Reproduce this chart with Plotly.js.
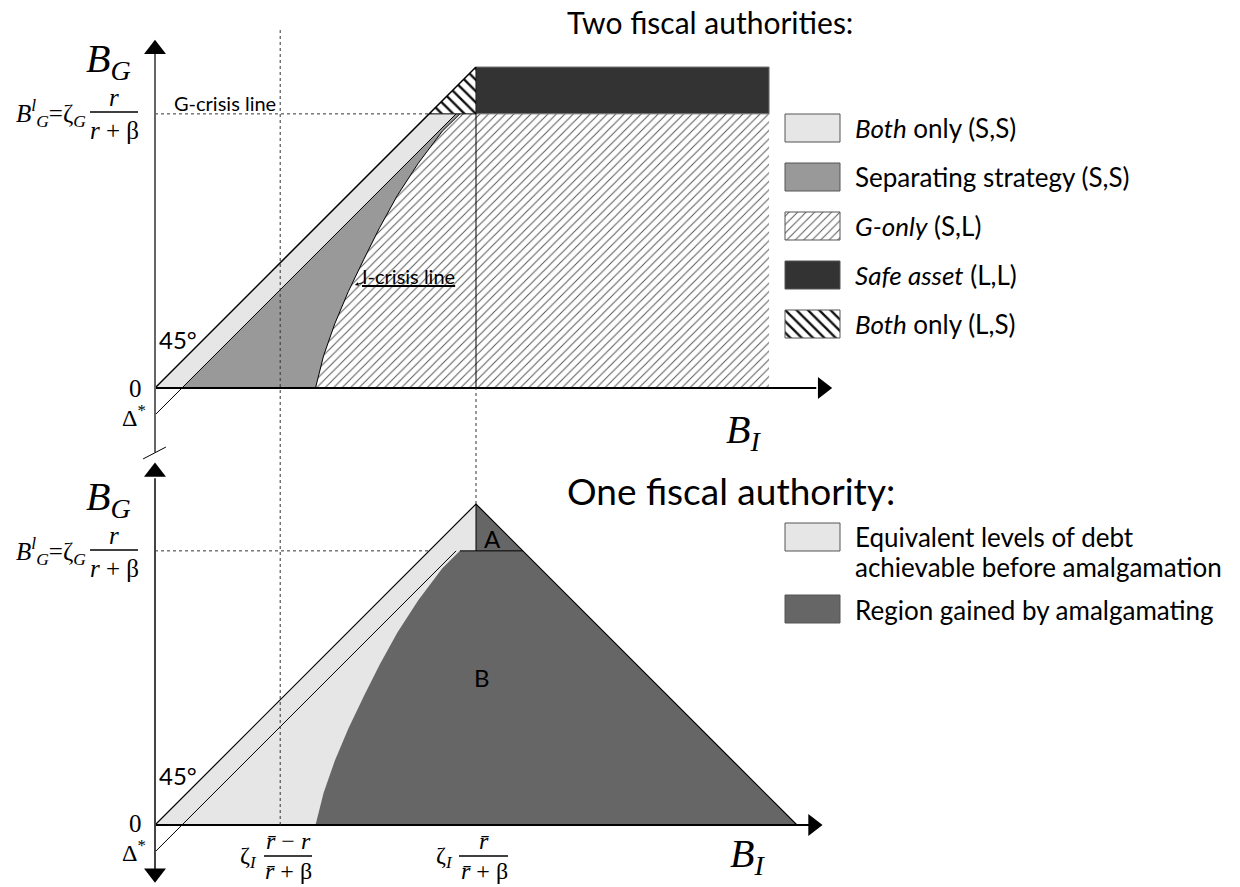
<!DOCTYPE html>
<html>
<head>
<meta charset="utf-8">
<script src="https://cdn.plot.ly/plotly-3.0.1.min.js"></script>
<style>html,body{margin:0;padding:0;background:#fff}#chart{width:1240px;height:887px}</style>
</head>
<body>
<div id="chart"></div>
<script>
// ---------------- DATA (model units) ----------------
const apex = 10;              // ζ_I r̄/(r̄+β) on B_I, and peak B_G
const gCrisis = 8.54;         // B_G^l = ζ_G r/(r+β)
const deltaStar = 0.84;       // Δ*
const separatingCut = 3.9;    // ζ_I (r̄−r)/(r̄+β)
const safeAssetEnd = 19.13;   // right edge of shaded regions (two authorities)
const oneAuthorityEnd = 20;   // B_I intercept of the one-authority frontier
// I-crisis line
const iCrisisBG = [0, 1, 2, 3, 4, 5, 6, 7, 8, 8.54];
const iCrisisBI = [5.0, 5.25, 5.6, 6.02, 6.5, 7.0, 7.55, 8.2, 8.95, 9.5];

const legendTop = ["<i>Both</i> only (S,S)", "Separating strategy (S,S)", "<i>G-only</i> (S,L)", "<i>Safe asset</i> (L,L)", "<i>Both</i> only (L,S)"];
const legendBottom = ["Equivalent levels of debt", "achievable before amalgamation", "Region gained by amalgamating"];

// ---------------- LAYOUT CONSTANTS (pixels) ----------------
const W = 1240, H = 887, PX = 32.1;
const originX = 155, topOriginY = 388, botOriginY = 825;
const panelGap = (botOriginY - topOriginY) / PX;

const C = {light: '#e6e6e6', mid: '#999999', dark: '#333333', region: '#666666'};
const SANS = 'Lato, "Open Sans", sans-serif';
const SERIF = '"Liberation Serif", "DejaVu Serif", serif';

const rev = a => a.slice().reverse();
const traces = [];
function poly(xs, ys, axis, fill, extra) {
  traces.push(Object.assign({x: xs.concat([xs[0]]), y: ys.concat([ys[0]]), xaxis: 'x', yaxis: axis,
    mode: 'lines', fill: 'toself', fillcolor: fill, line: {width: 0}, hoverinfo: 'skip', showlegend: false}, extra || {}));
}
function line(xs, ys, axis, color, width, dash) {
  traces.push({x: xs, y: ys, xaxis: 'x', yaxis: axis, mode: 'lines',
    line: {color: color, width: width, dash: dash || 'solid'}, hoverinfo: 'skip', showlegend: false});
}
function arrowHead(x, y, axis, symbol) {
  traces.push({x: [x], y: [y], xaxis: 'x', yaxis: axis, mode: 'markers',
    marker: {symbol: symbol, size: 19, color: '#000'}, hoverinfo: 'skip', showlegend: false});
}

// ---------- TOP PANEL: two fiscal authorities ----------
const hatchG = {fillpattern: {shape: '/', size: 6, solidity: 0.16, fgcolor: '#555', bgcolor: '#fff'}};
const hatchLS = {fillpattern: {shape: '\\', size: 8, solidity: 0.3, fgcolor: '#111', bgcolor: '#fff'}};
// G-only (S,L)
poly(iCrisisBI.concat([safeAssetEnd, safeAssetEnd]), iCrisisBG.concat([gCrisis, 0]), 'y', 'rgba(0,0,0,0)', hatchG);
// Safe asset (L,L)
poly([apex, safeAssetEnd, safeAssetEnd, apex], [gCrisis, gCrisis, apex, apex], 'y', C.dark, {line: {width: 1, color: '#777'}});
// Both only (L,S)
poly([gCrisis, apex, apex], [gCrisis, apex, gCrisis], 'y', 'rgba(0,0,0,0)', hatchLS);
// Both only (S,S)
poly([0, gCrisis, gCrisis + deltaStar, deltaStar], [0, gCrisis, gCrisis, 0], 'y', C.light);
// Separating strategy (S,S)
poly([deltaStar, gCrisis + deltaStar].concat(rev(iCrisisBI)), [0, gCrisis].concat(rev(iCrisisBG)), 'y', C.mid);

// lines, top
line([0, gCrisis], [gCrisis, gCrisis], 'y', '#333', 1, 'dot');
line([0, apex], [0, apex], 'y', '#000', 1.5);
line([0, gCrisis + deltaStar], [-deltaStar, gCrisis], 'y', '#000', 1);
line(iCrisisBI, iCrisisBG, 'y', '#000', 1);
line([apex, apex], [0, apex], 'y', '#000', 1);
line([gCrisis, apex], [gCrisis, gCrisis], 'y', '#000', 1);
// axes, top
line([0, 20.6], [0, 0], 'y', '#000', 2);
line([0, 0], [-2.0, 10.6], 'y', '#666', 2);
line([-0.37, 0.34], [-2.21, -1.84], 'y', '#000', 1);
arrowHead(20.8, 0, 'y', 'triangle-right');
arrowHead(0, 10.55, 'y', 'triangle-up');

// ---------- BOTTOM PANEL: one fiscal authority ----------
poly([0, apex, apex, iCrisisBI[iCrisisBI.length - 1]].concat(rev(iCrisisBI)).concat([iCrisisBI[0]]),
     [0, apex, gCrisis, gCrisis].concat(rev(iCrisisBG)).concat([0]), 'y2', C.light);
poly(iCrisisBI.concat([apex, apex, oneAuthorityEnd]), iCrisisBG.concat([gCrisis, apex, 0]), 'y2', C.region);
line([0, gCrisis], [gCrisis, gCrisis], 'y2', '#333', 1, 'dot');
line([0, apex, oneAuthorityEnd], [0, apex, 0], 'y2', '#000', 1.2);
line([0, gCrisis + deltaStar], [-deltaStar, gCrisis], 'y2', '#000', 1);
line([apex, apex], [gCrisis, apex], 'y2', '#000', 1);
line([iCrisisBI[iCrisisBI.length - 1], oneAuthorityEnd - gCrisis], [gCrisis, gCrisis], 'y2', '#000', 1);
line([0, 20.4], [0, 0], 'y2', '#000', 2.2);
line([0, 0], [-1.6, 10.8], 'y2', '#444', 2);
arrowHead(20.5, 0, 'y2', 'triangle-right');
arrowHead(0, 11.0, 'y2', 'triangle-up');
arrowHead(0, -1.5, 'y2', 'triangle-down');
// dotted verticals spanning both panels
line([separatingCut, separatingCut], [0, panelGap + 11.15], 'y2', '#333', 1, 'dot');
line([apex, apex], [apex, panelGap], 'y2', '#333', 1, 'dot');

// ---------- LEGENDS (pixel helper axes) ----------
const boxW = 55, boxH = 28, boxX = 785;
const topBoxY = [114, 163, 212, 261, 310];
const topFills = [[C.light, null], [C.mid, null], ['rgba(0,0,0,0)', hatchG], [C.dark, null], ['rgba(0,0,0,0)', hatchLS]];
function pbox(x0, y0, fill, extra) {
  traces.push(Object.assign({x: [x0, x0 + boxW, x0 + boxW, x0, x0], y: [y0, y0, y0 + boxH, y0 + boxH, y0],
    xaxis: 'x3', yaxis: 'y3', mode: 'lines', fill: 'toself', fillcolor: fill,
    line: {width: 1, color: '#555'}, hoverinfo: 'skip', showlegend: false}, extra || {}));
}
topBoxY.forEach((y, i) => pbox(boxX, y, topFills[i][0], topFills[i][1]));
const botBoxY = [523, 595];
pbox(boxX, botBoxY[0], C.light);
pbox(boxX, botBoxY[1], C.region);

const ann = [];
function txt(x, y, t, size, opt) {
  ann.push(Object.assign({xref: 'x3', yref: 'y3', x: x, y: y, text: t, showarrow: false,
    xanchor: 'left', yanchor: 'middle', font: {family: SANS, size: size, color: '#000'}}, opt || {}));
}
legendTop.forEach((t, i) => txt(853, topBoxY[i] + boxH / 2, t, 26));
txt(853, 537, legendBottom[0], 26);
txt(853, 567, legendBottom[1], 26);
txt(853, botBoxY[1] + boxH / 2 + 1, legendBottom[2], 26);

// titles
txt(565, 22, 'Two fiscal authorities:', 30);
txt(565, 490, 'One fiscal authority:', 37);
// in-plot labels
txt(172, 103, 'G-crisis line', 20);
txt(360, 276, '<u>I-crisis line</u>', 20);
ann.push({xref: 'x3', yref: 'y3', x: 355, y: 285, ax: 10, ay: -3, text: '', showarrow: true,
  arrowhead: 2, arrowsize: 0.7, arrowwidth: 1, arrowcolor: '#000'});
txt(157, 339, '45°', 24);
txt(157, 775, '45°', 24);
txt(482, 538, 'A', 24);
txt(472, 677, 'B', 24);

// serif math labels
const sf = (size) => ({font: {family: SERIF, size: size, color: '#000'}});
function stack(y0) {
  txt(133, y0 - 51, '<i>B</i><sub><i>G</i></sub>', 40, Object.assign({xanchor: 'right'}, sf(40)));
  txt(88, y0 + 1, '<i>B</i><sup><i>l</i></sup><sub><i>G</i></sub>=ζ<sub><i>G</i></sub>', 25, Object.assign({xanchor: 'right'}, sf(25)));
  txt(114, y0 - 15, '<i>r</i>', 25, Object.assign({xanchor: 'center'}, sf(25)));
  txt(114, y0 + 18, '<i>r</i> + β', 25, Object.assign({xanchor: 'center'}, sf(25)));
}
stack(112);
stack(550);
txt(144, 388, '0', 25, Object.assign({xanchor: 'right'}, sf(25)));
txt(148, 416, 'Δ<sup>*</sup>', 24, Object.assign({xanchor: 'right'}, sf(24)));
txt(144, 823, '0', 25, Object.assign({xanchor: 'right'}, sf(25)));
txt(148, 851, 'Δ<sup>*</sup>', 24, Object.assign({xanchor: 'right'}, sf(24)));
txt(724, 432, '<i>B</i><sub><i>I</i></sub>', 40, sf(40));
txt(728, 856, '<i>B</i><sub><i>I</i></sub>', 40, sf(40));
// bottom axis formulas
txt(259, 857, 'ζ<sub><i>I</i></sub>', 24, Object.assign({xanchor: 'right'}, sf(24)));
txt(288, 841, '<i>r̄</i> − <i>r</i>', 24, Object.assign({xanchor: 'center'}, sf(24)));
txt(288, 871, '<i>r̄</i> + β', 24, Object.assign({xanchor: 'center'}, sf(24)));
txt(455, 857, 'ζ<sub><i>I</i></sub>', 24, Object.assign({xanchor: 'right'}, sf(24)));
txt(484, 841, '<i>r̄</i>', 24, Object.assign({xanchor: 'center'}, sf(24)));
txt(484, 871, '<i>r̄</i> + β', 24, Object.assign({xanchor: 'center'}, sf(24)));

const bar = (x0, x1, y) => ({type: 'line', xref: 'x3', yref: 'y3', x0: x0, x1: x1, y0: y, y1: y, line: {color: '#000', width: 1.5}});
const shapes = [bar(90, 138, 112), bar(90, 138, 550), bar(264, 312, 856), bar(459, 508, 856)];

const layout = {
  width: W, height: H, margin: {l: 0, r: 0, t: 0, b: 0},
  paper_bgcolor: '#fff', plot_bgcolor: 'rgba(0,0,0,0)', showlegend: false,
  xaxis: {domain: [0, 1], range: [-originX / PX, (W - originX) / PX], visible: false, fixedrange: true},
  yaxis: {domain: [0, 1], range: [-(H - topOriginY) / PX, topOriginY / PX], visible: false, fixedrange: true},
  yaxis2: {overlaying: 'y', range: [-(H - botOriginY) / PX, botOriginY / PX], visible: false, fixedrange: true},
  xaxis3: {overlaying: 'x', anchor: 'y3', range: [0, W], visible: false, fixedrange: true},
  yaxis3: {overlaying: 'y', anchor: 'x3', range: [H, 0], visible: false, fixedrange: true},
  annotations: ann, shapes: shapes
};
Plotly.newPlot('chart', traces, layout, {displayModeBar: false, staticPlot: true});
</script>
</body>
</html>
